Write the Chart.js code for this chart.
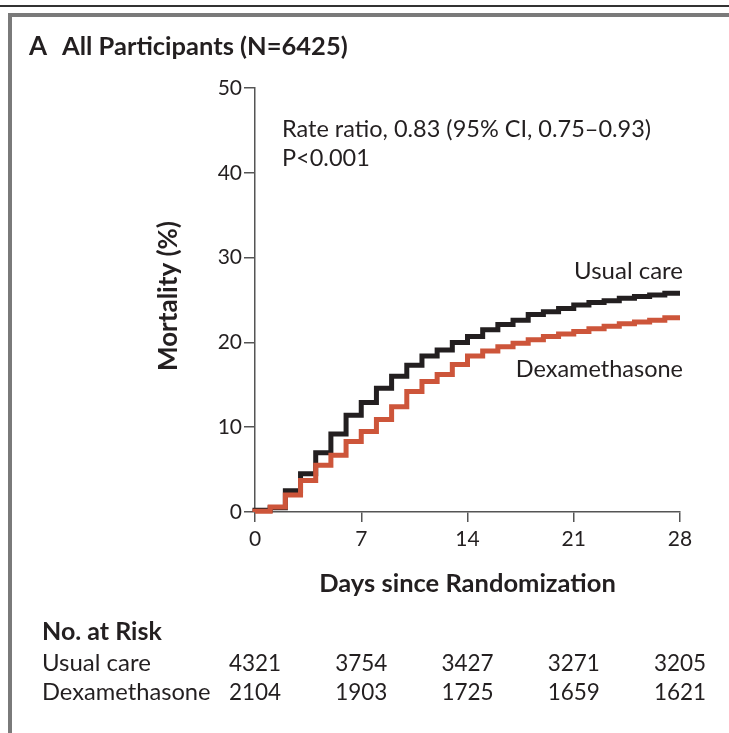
<!DOCTYPE html>
<html>
<head>
<meta charset="utf-8">
<script src="https://cdn.jsdelivr.net/npm/chart.js@4.4.1/dist/chart.umd.min.js"></script>
<style>
  html, body { margin: 0; padding: 0; background: #fff; }
  #wrap { position: relative; width: 729px; height: 733px; }
</style>
</head>
<body>
<div id="wrap"><canvas id="chart1"></canvas></div>
<script>
// days since randomization, one step per day
const days = [0, 1, 2, 3, 4, 5, 6, 7, 8, 9, 10, 11, 12, 13, 14,
              15, 16, 17, 18, 19, 20, 21, 22, 23, 24, 25, 26, 27, 28];
// mortality (%), value i holds over day (i-1, i]
const usualCare = [0, 0.2, 0.5, 2.5, 4.5, 7.0, 9.2, 11.4, 12.9, 14.6, 16.0, 17.3, 18.4, 19.1, 20.0,
                   20.7, 21.5, 22.1, 22.6, 23.3, 23.6, 24.0, 24.4, 24.7, 24.9, 25.2, 25.4, 25.6, 25.8];
const dexamethasone = [0, 0.1, 0.6, 2.0, 3.7, 5.5, 6.7, 8.3, 9.5, 10.9, 12.4, 14.2, 15.4, 16.2, 17.4,
                       18.4, 19.0, 19.5, 19.9, 20.3, 20.7, 21.0, 21.3, 21.6, 21.9, 22.2, 22.4, 22.6, 22.9];

const riskDays = [0, 7, 14, 21, 28];
const riskUsual = [4321, 3754, 3427, 3271, 3205];
const riskDexa = [2104, 1903, 1725, 1659, 1621];

const FONT = 'Lato, "Open Sans", sans-serif';
const INK = '#231f20';
const AXIS = '#555555';

function points(ys) {
    return days.map((d, i) => ({x: d, y: ys[i]}));
}

const extras = {
    id: 'extras',
    afterDraw(chart) {
        const ctx = chart.ctx;
        const xs = chart.scales.x;
        const area = chart.chartArea;
        ctx.save();

        // frame lines
        ctx.fillStyle = '#333';
        ctx.fillRect(0, 5, 729, 2);
        ctx.fillStyle = '#7a7a7a';
        ctx.fillRect(8, 13, 721, 4);
        ctx.fillRect(8, 13, 4, 720);

        ctx.fillStyle = INK;
        ctx.textBaseline = 'alphabetic';
        ctx.textAlign = 'left';
        ctx.font = 'bold 26px ' + FONT;
        ctx.fillText('A', 29, 55);
        ctx.font = 'bold 25.5px ' + FONT;
        ctx.fillText('All Participants (N=6425)', 62, 55);

        ctx.font = '23.5px ' + FONT;
        ctx.fillText('Rate ratio, 0.83 (95% CI, 0.75\u20130.93)', 282, 137);
        ctx.fillText('P<0.001', 282, 166);

        ctx.textAlign = 'right';
        ctx.font = '24px ' + FONT;
        ctx.fillText('Usual care', 683, 279);
        ctx.font = '23.5px ' + FONT;
        ctx.fillText('Dexamethasone', 683, 377);

        // axis titles
        ctx.textAlign = 'center';
        ctx.font = 'bold 25.5px ' + FONT;
        ctx.fillText('Days since Randomization', (area.left + area.right) / 2, 592);
        ctx.save();
        ctx.translate(177, 296);
        ctx.rotate(-Math.PI / 2);
        ctx.font = 'bold 26px ' + FONT;
        ctx.fillText('Mortality (%)', 0, 0);
        ctx.restore();

        // number at risk table
        ctx.textAlign = 'left';
        ctx.font = 'bold 25px ' + FONT;
        ctx.fillText('No. at Risk', 42, 640);
        ctx.font = '24px ' + FONT;
        ctx.fillText('Usual care', 42, 671);
        ctx.font = '23.7px ' + FONT;
        ctx.fillText('Dexamethasone', 42, 700);
        ctx.textAlign = 'center';
        ctx.font = '22.5px ' + FONT;
        riskDays.forEach((d, i) => {
            const px = xs.getPixelForValue(d);
            ctx.fillText(String(riskUsual[i]), px, 671);
            ctx.fillText(String(riskDexa[i]), px, 700);
        });
        ctx.restore();
    }
};

const ctx1 = document.getElementById('chart1').getContext('2d');
const chart1 = new Chart(ctx1, {
    type: 'line',
    data: {
        datasets: [
            {
                label: 'Dexamethasone',
                data: points(dexamethasone),
                borderColor: '#cd553a',
                borderWidth: 5,
                stepped: 'after',
                pointRadius: 0,
                clip: false
            },
            {
                label: 'Usual care',
                data: points(usualCare),
                borderColor: '#231f20',
                borderWidth: 5,
                stepped: 'after',
                pointRadius: 0,
                clip: false
            }
        ]
    },
    options: {
        responsive: true,
        maintainAspectRatio: false,
        animation: false,
        layout: { padding: { left: 0, top: 88, right: 49, bottom: 0 } },
        plugins: {
            legend: { display: false },
            tooltip: { enabled: false }
        },
        scales: {
            x: {
                type: 'linear',
                min: 0,
                max: 28,
                afterFit(scale) { scale.height = 733 - 512; },
                ticks: {
                    stepSize: 7,
                    color: INK,
                    padding: 5,
                    font: { family: FONT, size: 21 }
                },
                grid: { drawOnChartArea: false, tickLength: 10, color: AXIS, lineWidth: 1.5 },
                border: { color: AXIS, width: 1.5 }
            },
            y: {
                min: 0,
                max: 50,
                afterFit(scale) { scale.width = 255; },
                ticks: {
                    stepSize: 10,
                    color: INK,
                    padding: 2,
                    font: { family: FONT, size: 21 }
                },
                grid: { drawOnChartArea: false, tickLength: 11, color: AXIS, lineWidth: 1.5 },
                border: { color: AXIS, width: 1.5 }
            }
        }
    },
    plugins: [extras]
});
</script>
</body>
</html>
